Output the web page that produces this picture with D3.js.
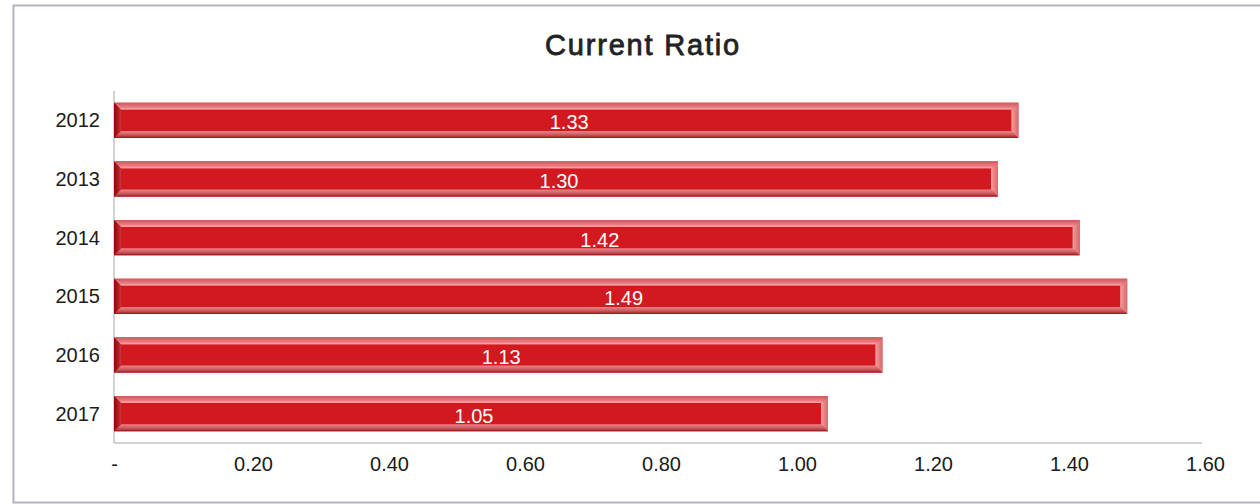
<!DOCTYPE html>
<html>
<head>
<meta charset="utf-8">
<script src="https://cdn.jsdelivr.net/npm/d3@7"></script>
<style>
  body { margin: 0; background: #fff; }
  svg text { font-family: "Liberation Sans", Arial, sans-serif; }
  .axis path, .axis line { stroke: none; }
  .axis text { font-size: 20px; fill: #1a1a1a; }
</style>
</head>
<body>
<div class="chart"></div>
<script>
const years = ['2012', '2013', '2014', '2015', '2016', '2017']
const ratios = [1.33, 1.30, 1.42, 1.49, 1.13, 1.05]
const xTicks = [0, 0.2, 0.4, 0.6, 0.8, 1.0, 1.2, 1.4, 1.6]
const title = 'Current Ratio'

const width = 1260, height = 504
const margin = {top: 91, right: 58, bottom: 61, left: 114}

const data = years.map((y, i) => ({year: y, value: ratios[i]}))

const svg = d3.select('.chart').append('svg')
  .attr('width', width)
  .attr('height', height)

// outer frame (right side runs off the page)
svg.append('rect')
  .attr('x', 13.5).attr('y', 5.5)
  .attr('width', width + 20).attr('height', 497)
  .attr('fill', 'none')
  .attr('stroke', '#b3b3bb')
  .attr('stroke-width', 2)

svg.append('text')
  .attr('x', 643).attr('y', 55)
  .attr('text-anchor', 'middle')
  .attr('font-size', 29)
  .attr('letter-spacing', 1.8)
  .attr('fill', '#222')
  .attr('stroke', '#222')
  .attr('stroke-width', 0.8)
  .text(title)

const x = d3.scaleLinear().domain([0, 1.6]).range([margin.left, width - margin.right])
const y = d3.scaleBand().domain(years).range([margin.top, height - margin.bottom])
  .paddingInner(0.4).paddingOuter(0.2)

// gradients for the bevelled bars
const defs = svg.append('defs')
function grad(id, x2, y2, stops) {
  const g = defs.append('linearGradient').attr('id', id)
    .attr('x1', 0).attr('y1', 0).attr('x2', x2).attr('y2', y2)
  stops.forEach(s => g.append('stop').attr('offset', s[0]).attr('stop-color', s[1]))
}
grad('bevTop', 0, 1, [[0, '#c65a5e'], [0.35, '#dc6c70'], [0.7, '#e98085'], [0.85, '#f6a3a0'], [1, '#f09090']])
grad('bevBot', 0, 1, [[0, '#e88487'], [0.45, '#d06468'], [0.8, '#b8383c'], [1, '#8e0b0e']])
grad('bevLeft', 1, 0, [[0, '#8e0a0c'], [0.5, '#a8181c'], [1, '#c43a3e']])
grad('bevRight', 1, 0, [[0, '#f4a4a0'], [0.3, '#ec8c8c'], [1, '#d86a6e']])

// axes lines
svg.append('line')
  .attr('x1', x(0)).attr('x2', x(0))
  .attr('y1', margin.top).attr('y2', height - margin.bottom)
  .attr('stroke', '#c4c4c4').attr('stroke-width', 1.5)

svg.append('line')
  .attr('x1', x(0)).attr('x2', x(1.6))
  .attr('y1', height - margin.bottom).attr('y2', height - margin.bottom)
  .attr('stroke', '#c4c4c4').attr('stroke-width', 1.5)

const b = 7
const bars = svg.selectAll('.bar').data(data).enter().append('g').attr('class', 'bar')

bars.each(function(d) {
  const g = d3.select(this)
  const x0 = x(0), x1 = x(d.value)
  const y0 = y(d.year), y1 = y(d.year) + y.bandwidth()
  g.append('rect')
    .attr('x', x0).attr('y', y0)
    .attr('width', x1 - x0).attr('height', y1 - y0)
    .attr('fill', '#d2191f')
  const poly = (pts, fill) => g.append('polygon')
    .attr('points', pts.map(p => p.join(',')).join(' '))
    .attr('fill', fill)
  poly([[x0, y0], [x1, y0], [x1 - b, y0 + b], [x0 + b, y0 + b]], 'url(#bevTop)')
  poly([[x0 + b, y1 - b], [x1 - b, y1 - b], [x1, y1], [x0, y1]], 'url(#bevBot)')
  poly([[x0, y0], [x0 + b, y0 + b], [x0 + b, y1 - b], [x0, y1]], 'url(#bevLeft)')
  poly([[x1, y0], [x1, y1], [x1 - b, y1 - b], [x1 - b, y0 + b]], 'url(#bevRight)')
})

bars.append('text')
  .attr('x', d => (x(0) + x(d.value)) / 2 + 3)
  .attr('y', d => y(d.year) + y.bandwidth() / 2 + 9)
  .attr('text-anchor', 'middle')
  .attr('font-size', 20)
  .attr('fill', '#fff')
  .text(d => d3.format('.2f')(d.value))

// y axis labels
svg.append('g')
  .attr('class', 'axis')
  .attr('transform', 'translate(' + (x(0) - 14) + ',0)')
  .call(d3.axisLeft(y).tickSize(0).tickPadding(0))
  .selectAll('text')
  .attr('dy', '0.35em')

// x axis labels
const xaxis = svg.append('g')
  .attr('class', 'axis')
  .attr('transform', 'translate(0,' + (height - margin.bottom) + ')')
  .call(d3.axisBottom(x)
    .tickValues(xTicks)
    .tickSize(0)
    .tickPadding(14)
    .tickFormat(d => d === 0 ? '-' : d3.format('.2f')(d)))

xaxis.selectAll('text').attr('dx', d => d === 0 ? 0 : 3)
</script>
</body>
</html>
